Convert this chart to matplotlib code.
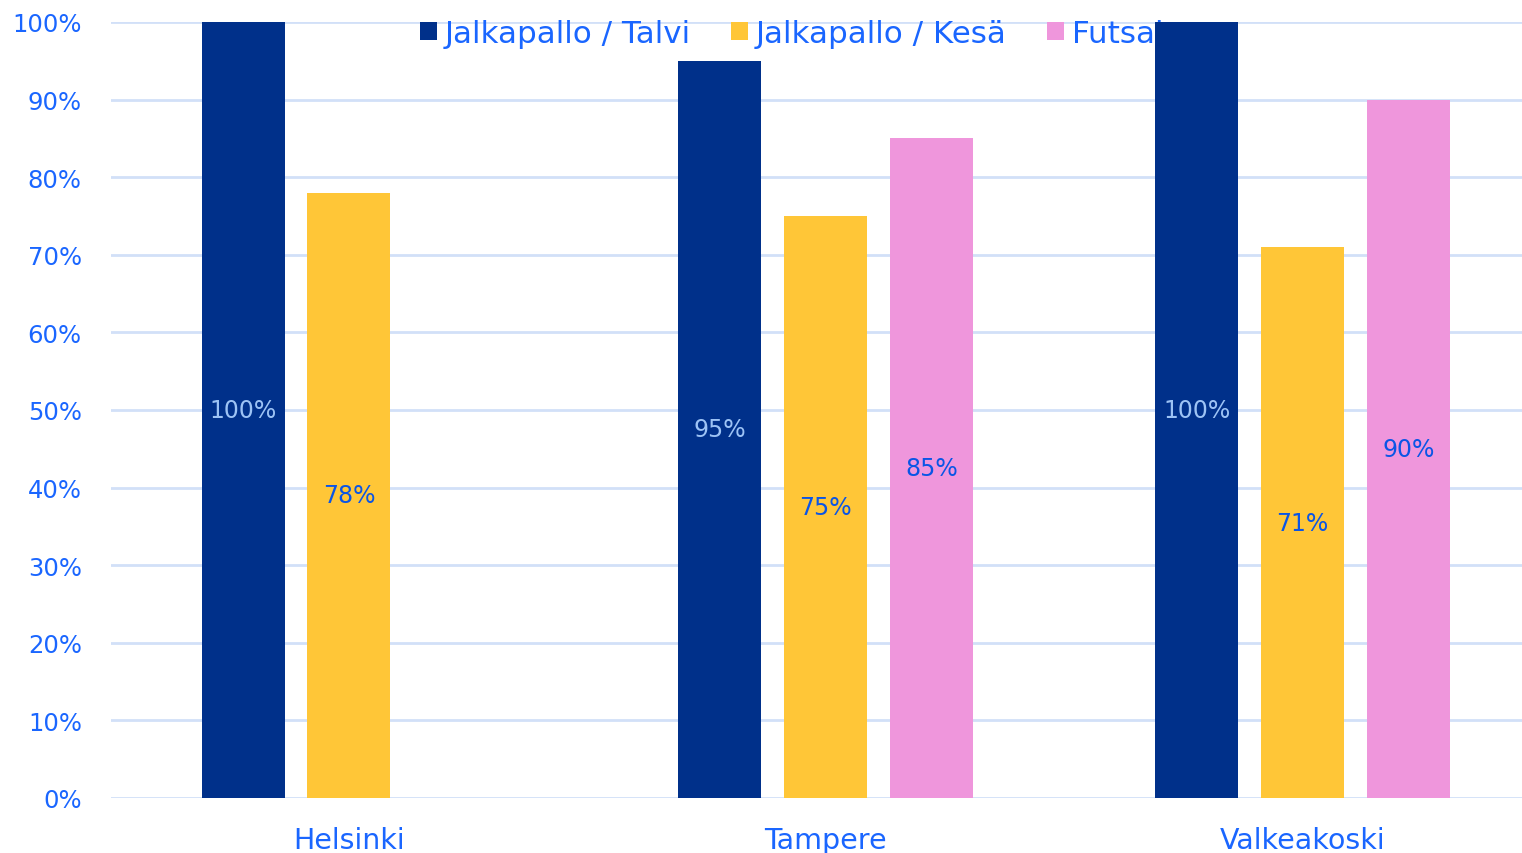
import numpy as np
import matplotlib.pyplot as plt

cities = ['Helsinki', 'Tampere', 'Valkeakoski']
series = ['Jalkapallo / Talvi', 'Jalkapallo / Kesä', 'Futsal']
talvi = [100, 95, 100]
kesa = [78, 75, 71]
futsal = [np.nan, 85, 90]

colors = ['#00308A', '#FFC637', '#EF96DC']
label_colors = ['#9DC3F5', '#0A55E6', '#0A55E6']
blue = '#1A66FF'
grid = '#D2E0F8'

plt.rcParams['font.family'] = ['DejaVu Sans']

fig = plt.figure(figsize=(15.22, 8.54), dpi=100)
ax = fig.add_axes([111 / 1522, 1 - 799 / 854, 1411 / 1522, 776 / 854])

x = np.arange(len(cities))
width = 0.174
offsets = [-0.222, 0, 0.222]
for vals, off, c, lc, name in zip([talvi, kesa, futsal], offsets, colors, label_colors, series):
    vals = np.array(vals, dtype=float)
    bars = ax.bar(x + off, vals, width, color=c, label=name, zorder=2)
    for b, v in zip(bars, vals):
        if np.isnan(v):
            continue
        ax.text(b.get_x() + b.get_width() / 2, v / 2, f'{v:.0f}%', ha='center', va='center',
                color=lc, fontsize=17, zorder=3)

ax.set_ylim(0, 100)
ax.set_xlim(-0.499, 2.46)
ax.set_yticks(range(0, 101, 10))
ax.set_yticklabels([f'{t}%' for t in range(0, 101, 10)])
ax.set_xticks(x)
ax.set_xticklabels(cities)
ax.tick_params(axis='y', length=0, pad=21, labelsize=17.5, labelcolor=blue)
ax.tick_params(axis='x', length=0, pad=20, labelsize=20.5, labelcolor=blue)
ax.grid(axis='y', color=grid, linewidth=2, zorder=0)
ax.set_axisbelow(True)
for s in ax.spines.values():
    s.set_visible(False)

leg = ax.legend(loc='upper left', bbox_to_anchor=(0.2101, 1.02), ncol=3, frameon=False,
                fontsize=22.3, handlelength=0.55, handleheight=0.55, handletextpad=0.25,
                columnspacing=1.3, borderaxespad=0)
for t in leg.get_texts():
    t.set_color(blue)
leg.set_zorder(1)

fig.savefig('out.png', dpi=100)
